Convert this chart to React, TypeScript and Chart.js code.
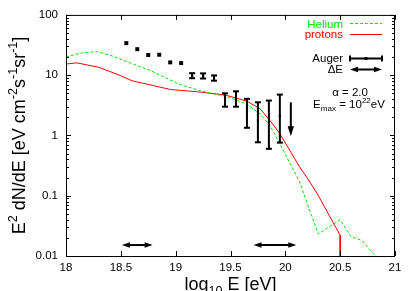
import React, { useEffect, useRef } from 'react';
import { Chart, registerables } from 'chart.js';

Chart.register(...registerables);

const FONT = '"Liberation Sans", Arial, Helvetica, sans-serif';

// ---- data ----
const xTickValues = [18, 18.5, 19, 19.5, 20, 20.5, 21];
const yTickValues = [0.01, 0.1, 1, 10, 100];

const heliumE = [18.0, 18.15, 18.28, 18.4, 18.55, 18.77, 18.89, 19.04, 19.2, 19.34, 19.45, 19.65, 19.77, 19.86, 19.95, 20.13, 20.3, 20.5, 20.6, 20.7, 20.8, 20.82];
const heliumFlux = [20.2, 23.5, 24.7, 21.5, 16.9, 11.9, 9.4, 7.0, 5.7, 4.9, 4.5, 3.3, 2.28, 1.46, 0.73, 0.17, 0.0231, 0.04, 0.0209, 0.018, 0.011, 0.0098];

const protonE = [18.0, 18.1, 18.3, 18.5, 18.6, 18.8, 18.95, 19.04, 19.2, 19.45, 19.65, 19.77, 19.86, 19.95, 20.13, 20.21, 20.29, 20.5, 20.5];
const protonFlux = [15.3, 16.0, 13.5, 9.8, 8.1, 6.7, 5.8, 5.6, 5.3, 4.7, 3.7, 2.76, 1.77, 1.07, 0.3, 0.185, 0.109, 0.022, 0.0099];

const augerE = [18.55, 18.65, 18.75, 18.85, 18.95, 19.05, 19.15, 19.25, 19.35, 19.45, 19.55, 19.65, 19.75, 19.85, 19.95];
const augerFlux = [34, 27, 21.6, 21.8, 16.3, 15.9, 9.8, 9.7, 9.0, 4.0, 4.1, 2.43, 1.77, 1.66, 2.08];
const augerLow = [34, 27, 21.6, 21.8, 16.3, 15.9, 8.9, 8.8, 8.1, 3.0, 3.0, 1.34, 0.77, 0.6, 0.76];
const augerHigh = [34, 27, 21.6, 21.8, 16.3, 15.9, 10.8, 10.7, 9.9, 5.0, 5.4, 4.05, 3.55, 3.79, 4.76];

const limitE = [20.05];
const limitTop = [3.55];
const limitTip = [0.97];

const deltaEFrom = [18.51, 19.71];
const deltaETo = [18.79, 20.1];
const deltaELevel = 0.0152;

const GREEN = 'rgb(0, 230, 0)';
const RED = 'rgb(255, 0, 0)';

type Seg = { t: string; m?: 'sup' | 'sub' };

function segFont(size: number, m?: string) {
  const s = m ? size * 0.7 : size;
  return `${s}px ${FONT}`;
}

function richWidth(ctx: CanvasRenderingContext2D, segs: Seg[], size: number) {
  let w = 0;
  for (const s of segs) {
    ctx.font = segFont(size, s.m);
    w += ctx.measureText(s.t).width;
  }
  return w;
}

function drawRich(ctx: CanvasRenderingContext2D, segs: Seg[], x: number, y: number, size: number, align: 'left' | 'center' | 'right') {
  const w = richWidth(ctx, segs, size);
  let cx = align === 'left' ? x : align === 'center' ? x - w / 2 : x - w;
  ctx.textAlign = 'left';
  ctx.textBaseline = 'alphabetic';
  for (const s of segs) {
    ctx.font = segFont(size, s.m);
    const dy = s.m === 'sup' ? -size * 0.42 : s.m === 'sub' ? size * 0.25 : 0;
    ctx.fillText(s.t, cx, y + dy);
    cx += ctx.measureText(s.t).width;
  }
}

function line(ctx: CanvasRenderingContext2D, x1: number, y1: number, x2: number, y2: number) {
  ctx.beginPath();
  ctx.moveTo(x1, y1);
  ctx.lineTo(x2, y2);
  ctx.stroke();
}

function head(ctx: CanvasRenderingContext2D, tx: number, ty: number, dx: number, dy: number, len: number, half: number) {
  const px = -dy, py = dx;
  ctx.beginPath();
  ctx.moveTo(tx, ty);
  ctx.lineTo(tx - dx * len + px * half, ty - dy * len + py * half);
  ctx.lineTo(tx - dx * len - px * half, ty - dy * len - py * half);
  ctx.closePath();
  ctx.fill();
}

function hArrow(ctx: CanvasRenderingContext2D, x1: number, x2: number, y: number) {
  ctx.lineWidth = 2;
  line(ctx, x1 + 4, y, x2 - 4, y);
  head(ctx, x1, y, -1, 0, 8, 2.8);
  head(ctx, x2, y, 1, 0, 8, 2.8);
}

const overlay = {
  id: 'overlay',
  afterDatasetsDraw(chart: any) {
    const { ctx, chartArea: a, scales } = chart;
    const xs = scales.x;
    const ys = scales.y;
    ctx.save();
    ctx.strokeStyle = '#000';
    ctx.fillStyle = '#000';

    // frame
    ctx.lineWidth = 1;
    ctx.strokeRect(a.left + 0.5, a.top + 0.5, a.right - a.left - 1, a.bottom - a.top);

    // x ticks (inward, bottom and top)
    for (const v of xTickValues) {
      const px = Math.round(xs.getPixelForValue(v)) + 0.5;
      line(ctx, px, a.bottom, px, a.bottom - 5);
      line(ctx, px, a.top, px, a.top + 5);
    }
    // y ticks (inward, left and right)
    for (const d of yTickValues) {
      const py = Math.round(ys.getPixelForValue(d)) + 0.5;
      line(ctx, a.left, py, a.left + 5, py);
      line(ctx, a.right, py, a.right - 5, py);
      if (d < 100) {
        for (let k = 2; k <= 9; k++) {
          const my = Math.round(ys.getPixelForValue(d * k)) + 0.5;
          line(ctx, a.left, my, a.left + 3, my);
          line(ctx, a.right, my, a.right - 3, my);
        }
      }
    }

    // error bars
    ctx.lineWidth = 2;
    for (let i = 0; i < augerE.length; i++) {
      if (augerHigh[i] <= augerLow[i]) continue;
      const px = xs.getPixelForValue(augerE[i]);
      const y1 = ys.getPixelForValue(augerLow[i]);
      const y2 = ys.getPixelForValue(augerHigh[i]);
      line(ctx, px, y1, px, y2);
      line(ctx, px - 3, y1, px + 3, y1);
      line(ctx, px - 3, y2, px + 3, y2);
    }
    // upper limit arrow
    for (let i = 0; i < limitE.length; i++) {
      const px = xs.getPixelForValue(limitE[i]);
      const y1 = ys.getPixelForValue(limitTop[i]);
      const y2 = ys.getPixelForValue(limitTip[i]);
      line(ctx, px, y1, px, y2 - 6);
      head(ctx, px, y2, 0, 1, 10, 3.2);
    }
    // energy resolution arrows
    for (let i = 0; i < deltaEFrom.length; i++) {
      hArrow(ctx, xs.getPixelForValue(deltaEFrom[i]), xs.getPixelForValue(deltaETo[i]), ys.getPixelForValue(deltaELevel));
    }

    // legend
    const fs = 11.5;
    const lx1 = 350, lx2 = 382, tx = 343;
    ctx.font = `${fs}px ${FONT}`;
    ctx.textAlign = 'right';
    ctx.textBaseline = 'alphabetic';
    ctx.fillStyle = GREEN;
    ctx.fillText(chart.data.datasets[0].label, tx, 27.5);
    ctx.strokeStyle = GREEN;
    ctx.lineWidth = 1;
    ctx.setLineDash([3, 2]);
    line(ctx, lx1, 23.5, lx2, 23.5);
    ctx.setLineDash([]);
    ctx.fillStyle = RED;
    ctx.fillText(chart.data.datasets[1].label, tx, 37.5);
    ctx.strokeStyle = RED;
    line(ctx, lx1, 34.5, lx2, 34.5);

    ctx.fillStyle = '#000';
    ctx.strokeStyle = '#000';
    ctx.fillText('Auger', tx, 62);
    ctx.lineWidth = 2;
    line(ctx, lx1, 58.5, lx2, 58.5);
    line(ctx, lx1, 55.5, lx1, 61.5);
    line(ctx, lx2, 55.5, lx2, 61.5);
    ctx.fillRect((lx1 + lx2) / 2 - 1.5, 57, 3, 3);
    ctx.fillText('\u0394E', tx, 73);
    hArrow(ctx, lx1, lx2, 69.5);

    ctx.fillStyle = '#000';
    drawRich(ctx, [{ t: '\u03b1 = 2.0' }], 350, 96, fs, 'center');
    drawRich(ctx, [{ t: 'E' }, { t: 'max', m: 'sub' }, { t: ' = 10' }, { t: '22', m: 'sup' }, { t: 'eV' }], 349, 108, fs, 'center');

    // axis titles
    drawRich(ctx, [{ t: 'log' }, { t: '10', m: 'sub' }, { t: ' E [eV]' }], (a.left + a.right) / 2, 290, 18, 'center');
    ctx.save();
    ctx.translate(25, (a.top + a.bottom) / 2);
    ctx.rotate(-Math.PI / 2);
    drawRich(ctx, [
      { t: 'E' }, { t: '2', m: 'sup' }, { t: ' dN/dE [eV cm' }, { t: '-2', m: 'sup' },
      { t: 's' }, { t: '-1', m: 'sup' }, { t: 'sr' }, { t: '-1', m: 'sup' }, { t: ']' },
    ], 0, 0, 18, 'center');
    ctx.restore();

    ctx.restore();
  },
};

export default function App() {
  const ref = useRef<HTMLCanvasElement>(null);
  useEffect(() => {
    if (!ref.current) return;
    const chart = new Chart(ref.current, {
      type: 'scatter',
      data: {
        datasets: [
          {
            label: 'Helium',
            data: heliumE.map((x, i) => ({ x, y: heliumFlux[i] })),
            showLine: true,
            borderColor: GREEN,
            borderWidth: 1,
            borderDash: [3, 2],
            pointRadius: 0,
            tension: 0,
          },
          {
            label: 'protons',
            data: protonE.map((x, i) => ({ x, y: protonFlux[i] })),
            showLine: true,
            borderColor: RED,
            borderWidth: 1,
            pointRadius: 0,
            tension: 0,
          },
          {
            label: 'Auger',
            data: augerE.map((x, i) => ({ x, y: augerFlux[i] })),
            showLine: false,
            pointStyle: 'rect',
            pointRadius: augerE.map((_, i) => (augerHigh[i] > augerLow[i] ? 1.5 : 2.8)),
            backgroundColor: '#000',
            borderColor: '#000',
            borderWidth: 0,
          },
        ],
      },
      options: {
        animation: false,
        responsive: false,
        devicePixelRatio: 1,
        layout: { padding: { top: 14, right: 20, left: 0, bottom: 0 } },
        plugins: { legend: { display: false }, tooltip: { enabled: false } },
        scales: {
          x: {
            type: 'linear',
            min: 18,
            max: 21,
            afterBuildTicks: (s: any) => { s.ticks = xTickValues.map((v) => ({ value: v })); },
            afterFit: (s: any) => { s.height = 35; },
            grid: { display: false, drawTicks: false },
            border: { display: false },
            ticks: {
              padding: 5,
              autoSkip: false,
              maxRotation: 0,
              color: '#000',
              font: { size: 11.5, family: FONT },
              callback: (v: any) => String(v),
            },
          },
          y: {
            type: 'logarithmic',
            min: 0.01,
            max: 100,
            afterBuildTicks: (s: any) => { s.ticks = yTickValues.map((v) => ({ value: v })); },
            afterFit: (s: any) => { s.width = 66; },
            grid: { display: false, drawTicks: false },
            border: { display: false },
            ticks: {
              padding: 8,
              autoSkip: false,
              color: '#000',
              font: { size: 11.5, family: FONT },
              callback: (v: any) => String(v),
            },
          },
        },
      },
      plugins: [overlay],
    });
    return () => chart.destroy();
  }, []);
  return (
    <div style={{ position: 'fixed', left: 0, top: 0, width: 415, height: 291, background: '#fff' }}>
      <canvas ref={ref} width={415} height={291} style={{ display: 'block' }} />
    </div>
  );
}
